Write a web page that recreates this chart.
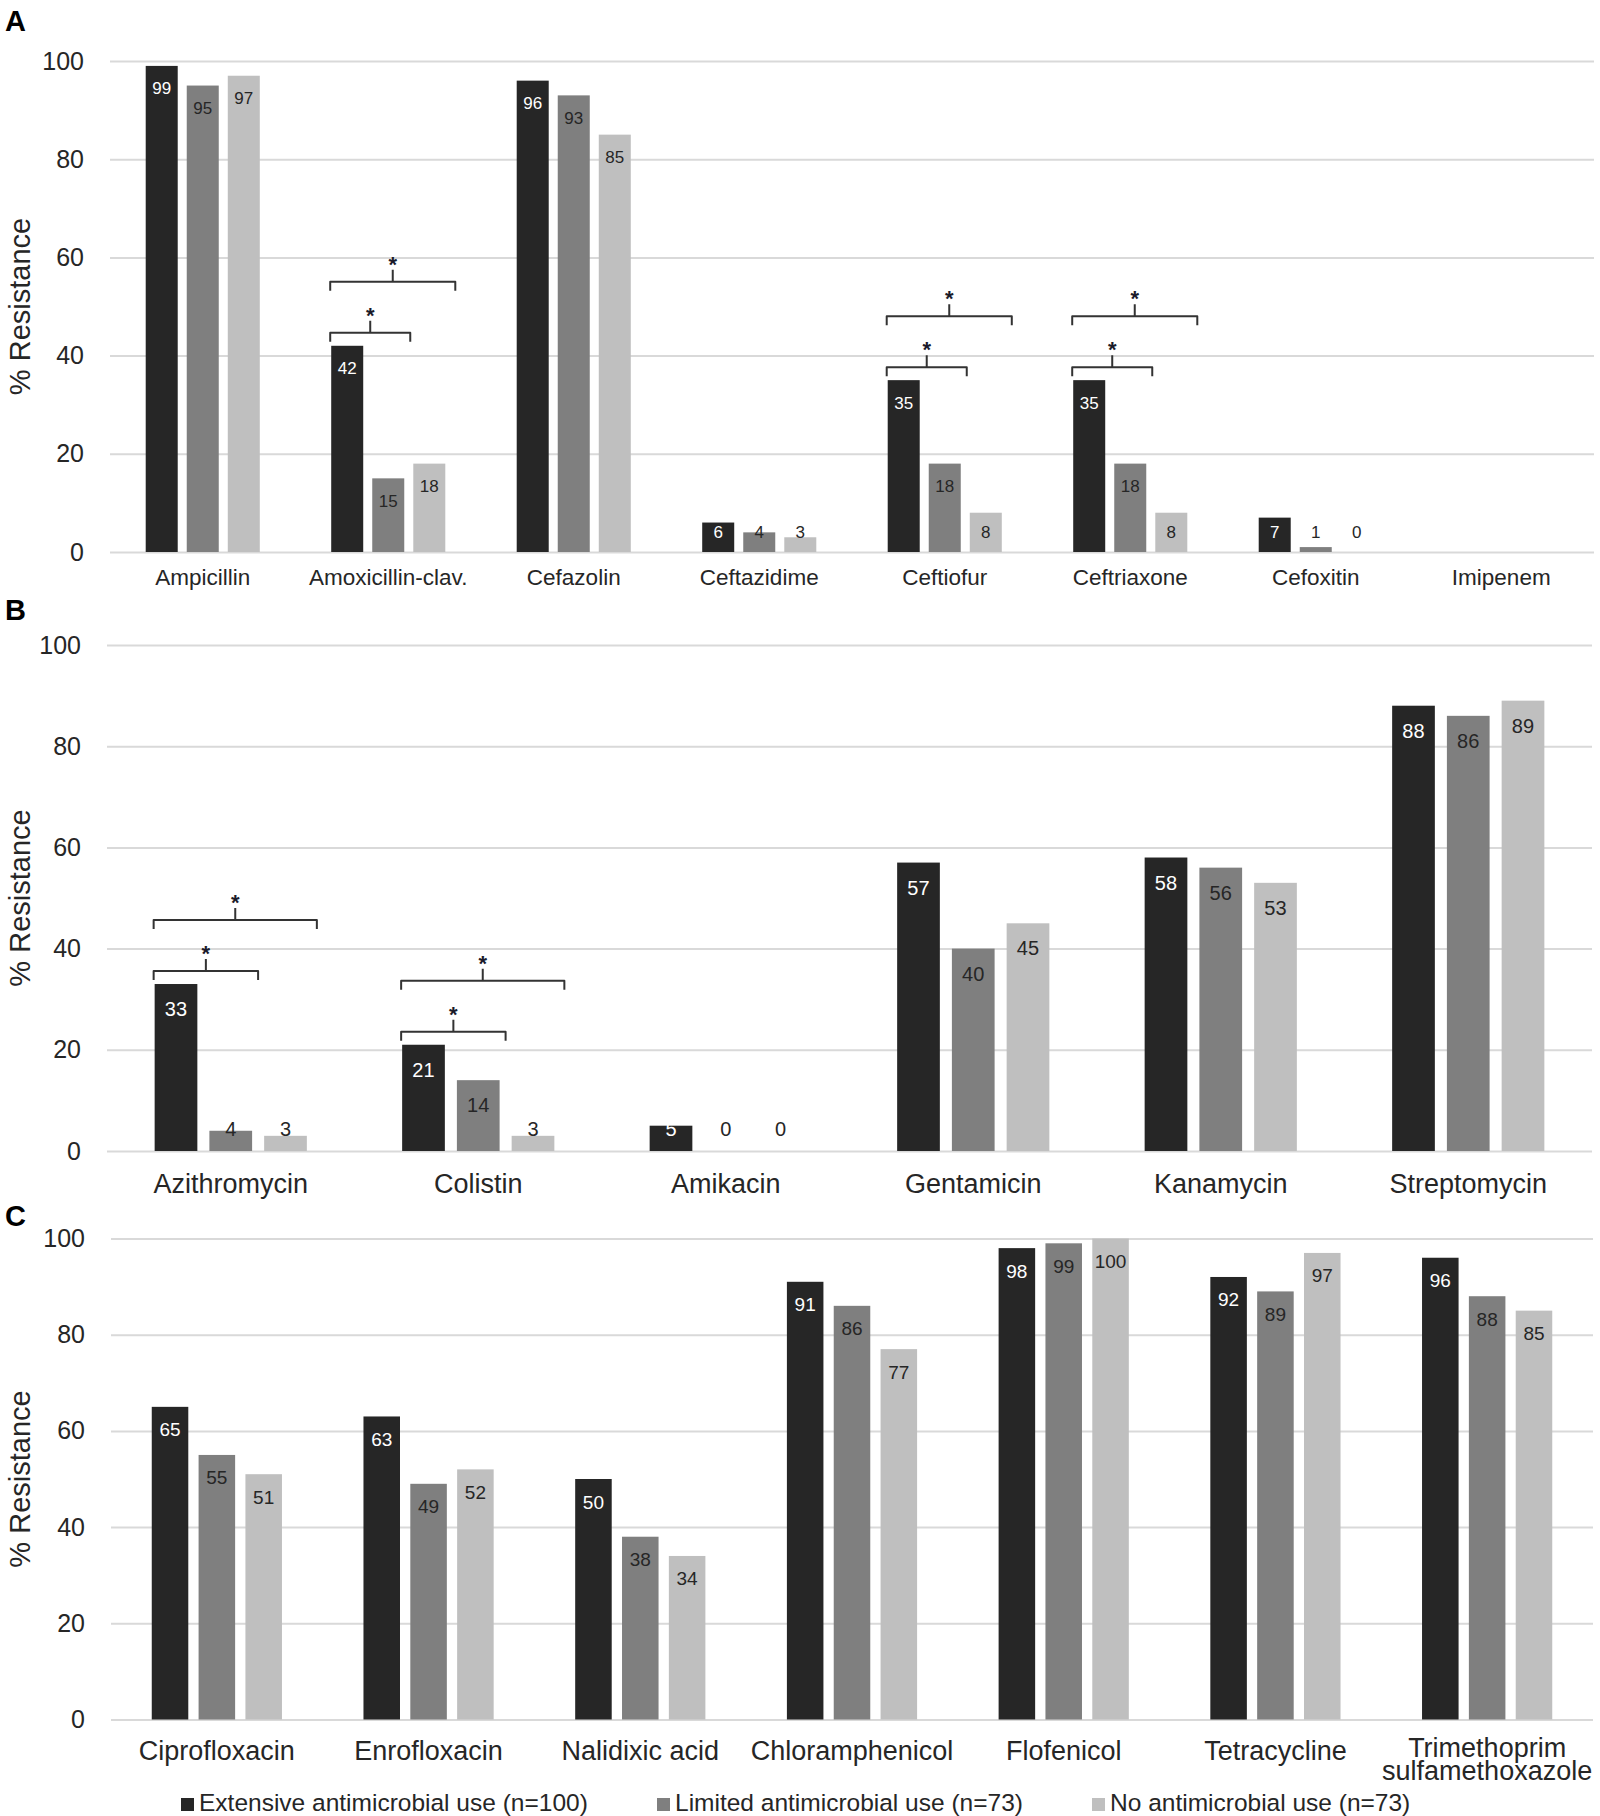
<!DOCTYPE html>
<html>
<head>
<meta charset="utf-8">
<script src="https://cdn.jsdelivr.net/npm/d3@7"></script>
<style>
  body { margin: 0; background: #fff; }
  svg { display: block; font-family: 'Liberation Sans', Arial, sans-serif; }
</style>
</head>
<body>
<div id="chart"></div>
<script>
// series (legend order)
var seriesNames = [
  'Extensive antimicrobial use (n=100)',
  'Limited antimicrobial use (n=73)',
  'No antimicrobial use (n=73)'
]
var seriesColors = ['#262626', '#7f7f7f', '#bfbfbf']

var yTicks = [0, 20, 40, 60, 80, 100]

// panel A
var drugsA = ['Ampicillin', 'Amoxicillin-clav.', 'Cefazolin', 'Ceftazidime', 'Ceftiofur', 'Ceftriaxone', 'Cefoxitin', 'Imipenem']
var extensiveA = [99, 42, 96, 6, 35, 35, 7, null]
var limitedA = [95, 15, 93, 4, 18, 18, 1, null]
var noneA = [97, 18, 85, 3, 8, 8, 0, null]
// [drug, compared series, level]
var bracketsA = [
  ['Amoxicillin-clav.', 1, 0], ['Amoxicillin-clav.', 2, 1],
  ['Ceftiofur', 1, 0], ['Ceftiofur', 2, 1],
  ['Ceftriaxone', 1, 0], ['Ceftriaxone', 2, 1]
]

// panel B
var drugsB = ['Azithromycin', 'Colistin', 'Amikacin', 'Gentamicin', 'Kanamycin', 'Streptomycin']
var extensiveB = [33, 21, 5, 57, 58, 88]
var limitedB = [4, 14, 0, 40, 56, 86]
var noneB = [3, 3, 0, 45, 53, 89]
var bracketsB = [
  ['Azithromycin', 1, 0], ['Azithromycin', 2, 1],
  ['Colistin', 1, 0], ['Colistin', 2, 1]
]

// panel C
var drugsC = ['Ciprofloxacin', 'Enrofloxacin', 'Nalidixic acid', 'Chloramphenicol', 'Flofenicol', 'Tetracycline', 'Trimethoprim\nsulfamethoxazole']
var extensiveC = [65, 63, 50, 91, 98, 92, 96]
var limitedC = [55, 49, 38, 86, 99, 89, 88]
var noneC = [51, 52, 34, 77, 100, 97, 85]
var bracketsC = []

var width = 1600
var height = 1816

var svg = d3
  .select('#chart')
  .append('svg')
  .attr('width', width)
  .attr('height', height)

svg.append('rect').attr('width', width).attr('height', height).attr('fill', '#fff')

function drawPanel(cfg) {
  var rows = cfg.drugs.map(function(d, i) {
    return { drug: d, values: [cfg.series[0][i], cfg.series[1][i], cfg.series[2][i]] }
  })

  var xScale = d3
    .scaleBand()
    .domain(cfg.drugs)
    .range([cfg.left, cfg.right])
    .paddingInner(0.385)
    .paddingOuter(0.1925)

  var barScale = d3
    .scaleBand()
    .domain([0, 1, 2])
    .range([0, xScale.bandwidth()])
    .paddingInner(0.22)

  var yScale = d3
    .scaleLinear()
    .domain([0, 100])
    .range([cfg.bottom, cfg.top])

  var g = svg.append('g')

  // gridlines + tick labels
  var yAxis = d3
    .axisLeft(yScale)
    .tickValues(yTicks)
    .tickSizeInner(-(cfg.right - cfg.left))
    .tickSizeOuter(0)
    .tickPadding(26)

  var axisG = g
    .append('g')
    .attr('transform', 'translate(' + cfg.left + ',0)')
    .call(yAxis)
  axisG.select('.domain').remove()
  axisG.selectAll('.tick line').attr('stroke', '#d9d9d9').attr('stroke-width', 2)
  axisG
    .selectAll('.tick text')
    .attr('fill', '#262626')
    .attr('font-size', 25)
    .attr('font-family', "'Liberation Sans', Arial, sans-serif")

  // bars
  var groups = g
    .selectAll('.group')
    .data(rows)
    .enter()
    .append('g')
    .attr('class', 'group')
    .attr('transform', function(d) {
      return 'translate(' + xScale(d.drug) + ',0)'
    })

  var cells = groups
    .selectAll('.cell')
    .data(function(d) {
      return d.values.map(function(v, i) {
        return { s: i, v: v }
      }).filter(function(c) {
        return c.v !== null
      })
    })
    .enter()
    .append('g')
    .attr('class', 'cell')

  cells
    .append('rect')
    .attr('x', function(d) {
      return barScale(d.s)
    })
    .attr('width', barScale.bandwidth())
    .attr('y', function(d) {
      return yScale(d.v)
    })
    .attr('height', function(d) {
      return yScale(0) - yScale(d.v)
    })
    .attr('fill', function(d) {
      return seriesColors[d.s]
    })

  cells
    .append('text')
    .attr('x', function(d) {
      return barScale(d.s) + barScale.bandwidth() / 2
    })
    .attr('y', function(d) {
      return Math.min(yScale(d.v) + cfg.labelOffset, yScale(0) - cfg.labelMin)
    })
    .attr('dominant-baseline', 'central')
    .attr('text-anchor', 'middle')
    .attr('font-size', cfg.labelSize)
    .attr('fill', function(d) {
      return d.s === 0 ? '#fff' : '#262626'
    })
    .text(function(d) {
      return d.v
    })

  // category labels
  var catText = g
    .selectAll('.cat')
    .data(cfg.drugs)
    .enter()
    .append('text')
    .attr('class', 'cat')
    .attr('text-anchor', 'middle')
    .attr('font-size', cfg.catSize)
    .attr('fill', '#262626')
    .attr('y', function(d) {
      return yScale(0) + cfg.catDy - (d.indexOf('\n') > -1 ? 3 : 0)
    })

  catText
    .selectAll('tspan')
    .data(function(d) {
      return d.split('\n').map(function(t) {
        return { t: t, x: xScale(d) + xScale.bandwidth() / 2 }
      })
    })
    .enter()
    .append('tspan')
    .attr('x', function(d) {
      return d.x
    })
    .attr('dy', function(d, i) {
      return i === 0 ? 0 : 23
    })
    .text(function(d) {
      return d.t
    })

  // significance brackets
  var br = g
    .selectAll('.bracket')
    .data(cfg.brackets)
    .enter()
    .append('g')
    .attr('class', 'bracket')

  function bracketGeom(d) {
    var i = cfg.drugs.indexOf(d[0])
    var x0 = xScale(d[0])
    var x1 = x0 + barScale(0) - 1
    var x2 = x0 + barScale(d[1]) + barScale.bandwidth() + 6 + 4 * d[2]
    var yh = yScale(cfg.series[0][i]) - 13 - d[2] * 51
    return { x1: x1, x2: x2, xm: (x1 + x2) / 2, yh: yh }
  }

  br
    .append('path')
    .attr('fill', 'none')
    .attr('stroke', '#333')
    .attr('stroke-width', 2)
    .attr('stroke-linejoin', 'round')
    .attr('d', function(d) {
      var b = bracketGeom(d)
      return 'M' + b.x1 + ',' + (b.yh + 9) + 'V' + b.yh + 'H' + b.x2 + 'V' + (b.yh + 9) +
        'M' + b.xm + ',' + b.yh + 'V' + (b.yh - 12)
    })

  br
    .append('text')
    .attr('x', function(d) {
      return bracketGeom(d).xm
    })
    .attr('y', function(d) {
      return bracketGeom(d).yh - 10
    })
    .attr('text-anchor', 'middle')
    .attr('font-size', 22)
    .attr('font-weight', 700)
    .attr('fill', '#1a1a2a')
    .text('*')

  // y title
  g.append('text')
    .attr('transform', 'translate(30,' + (cfg.top + cfg.bottom) / 2 + ') rotate(-90)')
    .attr('text-anchor', 'middle')
    .attr('font-size', 29)
    .attr('fill', '#262626')
    .text('% Resistance')

  // panel letter
  g.append('text')
    .attr('x', 5)
    .attr('y', cfg.letterY)
    .attr('font-size', 29)
    .attr('font-weight', 700)
    .attr('fill', '#000')
    .text(cfg.letter)
}

drawPanel({
  letter: 'A', letterY: 31,
  drugs: drugsA, series: [extensiveA, limitedA, noneA], brackets: bracketsA,
  left: 110, right: 1594, top: 61, bottom: 552,
  labelSize: 17, labelOffset: 23, labelMin: 20, catSize: 22.5, catDy: 33
})

drawPanel({
  letter: 'B', letterY: 620,
  drugs: drugsB, series: [extensiveB, limitedB, noneB], brackets: bracketsB,
  left: 107, right: 1592, top: 645, bottom: 1151,
  labelSize: 20, labelOffset: 25, labelMin: 22, catSize: 27, catDy: 42
})

drawPanel({
  letter: 'C', letterY: 1226,
  drugs: drugsC, series: [extensiveC, limitedC, noneC], brackets: bracketsC,
  left: 111, right: 1593, top: 1238.5, bottom: 1719.5,
  labelSize: 19, labelOffset: 23, labelMin: 22, catSize: 27, catDy: 40
})

// legend
var legendX = [181, 657, 1092]
var legend = svg
  .selectAll('.legend')
  .data(seriesNames)
  .enter()
  .append('g')
  .attr('class', 'legend')
  .attr('transform', function(d, i) {
    return 'translate(' + legendX[i] + ',1798)'
  })

legend
  .append('rect')
  .attr('width', 13)
  .attr('height', 13)
  .attr('fill', function(d, i) {
    return seriesColors[i]
  })

legend
  .append('text')
  .attr('x', 18)
  .attr('y', 13)
  .attr('font-size', 24.5)
  .attr('fill', '#262626')
  .text(function(d) {
    return d
  })
</script>
</body>
</html>
